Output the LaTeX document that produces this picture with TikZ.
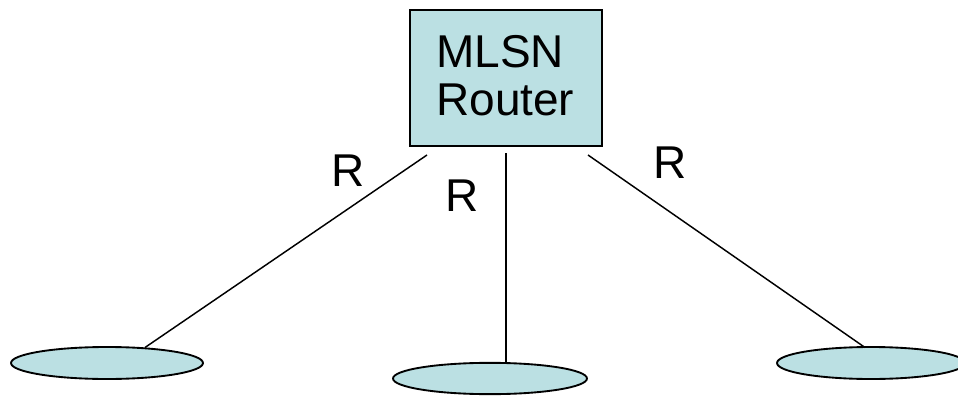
\documentclass[tikz,border=0pt]{standalone}
\usepackage{fontspec}
\setmainfont{Liberation Sans}
\usetikzlibrary{shapes.geometric,calc}
\definecolor{lan}{HTML}{BBE0E3}
\tikzset{
  router/.style={draw=black, line width=1pt, fill=lan, minimum width=144pt, minimum height=102pt, inner sep=0pt},
  lan/.style={ellipse, draw=black, line width=1.4pt, fill=lan, inner sep=0pt},
  link/.style={draw=black, line width=1.1pt},
  lbl/.style={font=\fontsize{34.5pt}{36pt}\selectfont, inner sep=0pt},
}
\begin{document}
\begin{tikzpicture}[x=0.75pt,y=-0.75pt]
\useasboundingbox (0,0) rectangle (958,396);
\node[router] (box) at (506,78) {};
\node[lbl, align=left, anchor=base west] (txt) at (436,115) {MLSN\\Router};
\node[lan, minimum width=144pt, minimum height=24pt] (e1) at (107,363) {};
\node[lan, minimum width=145.5pt, minimum height=23.5pt] (e2) at (490,378.5) {};
\node[lan, minimum width=141pt, minimum height=24pt] (e3) at (871,363) {};
\coordinate (t1) at (427,155);
\coordinate (t2) at (506,153);
\coordinate (t3) at (588,155);
\coordinate (b1) at (145,347.5);
\coordinate (b2) at (506,363);
\coordinate (b3) at (865,347.5);
\draw[link] (t1) -- (b1);
\draw[link] (t2) -- (b2);
\draw[link] (t3) -- (b3);
\node[lbl] (r1) at (348,170.5) {R};
\node[lbl] (r2) at (462.5,195.5) {R};
\node[lbl] (r3) at (670,162.5) {R};
\end{tikzpicture}
\end{document}
